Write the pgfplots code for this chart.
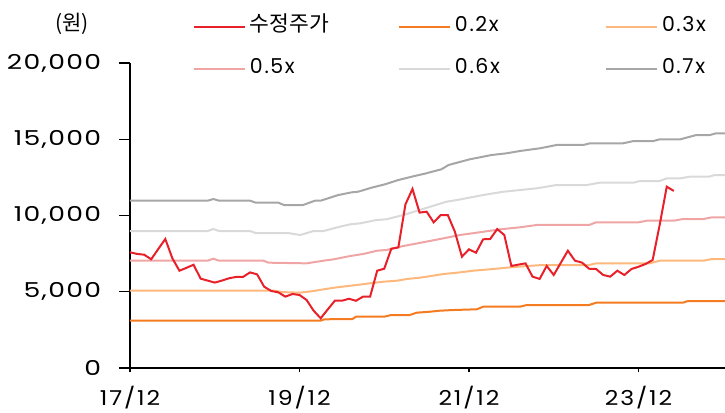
\documentclass[border=0pt]{standalone}
\usepackage{fontspec}
\usepackage{graphicx}
\setmainfont{Poppins}[LetterSpace=8]
\newfontfamily\kr{Noto Sans CJK KR}
\usepackage{pgfplots}
\pgfplotsset{compat=1.18}

\definecolor{cPrice}{HTML}{E8202A}
\definecolor{cTwo}{HTML}{F47B20}
\definecolor{cThree}{HTML}{FDB97D}
\definecolor{cFive}{HTML}{F0A5A5}
\definecolor{cSix}{HTML}{D9D9D9}
\definecolor{cSeven}{HTML}{A6A6A6}

\newcommand{\yl}[1]{\scalebox{1.3}[1]{\addfontfeature{LetterSpace=5}#1}}
\newcommand{\xl}[1]{\scalebox{1.15}[1]{#1}}

% x = months since 2017/12
\pgfplotstableread{
m v
0 7590
1 7480
2 7430
3 7130
4 7800
5 8460
6 7190
7 6380
8 6570
9 6770
10 5860
11 5730
12 5600
13 5730
14 5880
15 5970
16 5970
17 6270
18 6140
19 5330
20 5050
21 4960
22 4680
23 4850
24 4790
25 4460
26 3760
27 3260
28 3840
29 4410
30 4410
31 4540
32 4410
33 4680
34 4680
35 6380
36 6510
37 7820
38 7910
39 10730
40 11740
41 10190
42 10250
43 9550
44 10030
45 10030
46 8940
47 7300
48 7780
49 7560
50 8440
51 8460
52 9110
53 8720
54 6690
55 6780
56 6860
57 5990
58 5840
59 6690
60 6100
61 6900
62 7690
63 7040
64 6910
65 6510
66 6490
67 6100
68 5990
69 6380
70 6100
71 6490
72 6640
73 6820
74 7080
75 9380
76 11890
77 11610
}\price

\begin{document}
\begin{tikzpicture}
\begin{axis}[
    scale only axis,
    width=595pt, height=305pt,
    xmin=0, xmax=84.25, ymin=0, ymax=20000,
    axis x line=bottom, axis y line=left,
    axis line style={-, line width=1.3pt, black},
    xtick={0,24,48,72},
    xticklabels={\xl{17/12},\xl{19/12},\xl{21/12},\xl{23/12}},
    ytick={0,5000,10000,15000,20000},
    yticklabels={\yl{0},\yl{5,000},\yl{10,000},\yl{15,000},\yl{20,000}},
    scaled y ticks=false,
    tick align=outside,
    tick style={black, line width=1.3pt},
    xtick style={/pgfplots/major tick length=4pt},
    ytick style={/pgfplots/major tick length=11pt},
    ticklabel style={font=\fontsize{20.5}{24}\selectfont},
    yticklabel style={xshift=-21pt},
    xticklabel style={yshift=-10pt},
    legend columns=3,
    legend style={at={(0,1)}, anchor=north west, xshift=63pt, yshift=46pt,
        draw=none, fill=none, inner sep=0pt, outer sep=0pt,
        font=\fontsize{20.5}{24}\selectfont,
        nodes={inner sep=0pt, text height=15pt, text depth=5pt},
        row sep=22pt,
        /tikz/every odd column/.append style={column sep=4pt}},
    legend cell align=left,
    legend image code/.code={\draw[#1] (0pt,0pt) -- (51pt,0pt);},
]
\coordinate (O) at (rel axis cs:0,0);
\coordinate (T) at (rel axis cs:0,1);

\addlegendimage{cPrice, line width=2pt}
\addlegendentry{\makebox[148pt][l]{\kr\fontsize{21.5}{24}\selectfont 수정주가}}
\addlegendimage{cTwo, line width=2pt}
\addlegendentry{\makebox[150pt][l]{0.2x}}
\addlegendimage{cThree, line width=2pt}
\addlegendentry{0.3x}
\addlegendimage{cFive, line width=2pt}
\addlegendentry{\makebox[148pt][l]{0.5x}}
\addlegendimage{cSix, line width=2pt}
\addlegendentry{\makebox[150pt][l]{0.6x}}
\addlegendimage{cSeven, line width=2pt}
\addlegendentry{0.7x}

% 0.7x
\addplot[cSeven, line width=2pt, forget plot] coordinates {
(0,10972) (11,10972) (11.8,11080) (12.6,10972) (17,10972) (17.8,10841) (21,10841)
(21.8,10688) (24.5,10688) (26.2,10972) (27,10972) (29.5,11343) (31.4,11520)
(32.3,11560) (34.2,11823) (36.1,12045) (38,12327) (39.9,12546) (41.8,12750)
(44.1,13030) (45.1,13311) (48.1,13684) (51.2,13967) (53.3,14077) (55.2,14229)
(58,14404) (60.4,14623) (64.2,14623) (65.1,14732) (69.8,14732) (71.3,14883)
(74.1,14883) (75,14994) (77.9,14994) (80.2,15278) (82.1,15278) (83,15389) (84.25,15389)};
% 0.6x
\addplot[cSix, line width=2pt, forget plot] coordinates {
(0,8983) (11,8983) (11.8,9114) (12.6,8983) (17,8983) (17.8,8850) (22.4,8850)
(24.1,8721) (26,8983) (27.4,8983) (29.7,9265) (31.2,9422) (32.6,9488) (34.9,9704)
(36.3,9750) (38.7,10032) (41,10360) (44.8,10904) (46.3,11015) (50,11343)
(52.9,11560) (57.6,11783) (60.4,11999) (64.7,11999) (66.5,12150) (71.3,12150)
(72.2,12261) (75,12261) (76,12436) (77.9,12436) (79.3,12546) (82,12546)
(82.8,12655) (84.25,12655)};
% 0.5x
\addplot[cFive, line width=2pt, forget plot] coordinates {
(0,7036) (11,7036) (11.8,7167) (12.6,7036) (18.9,7036) (19.6,6906) (25,6863)
(27.4,7036) (28.8,7124) (31.2,7344) (33,7475) (35,7693) (36.3,7737) (38.7,7999)
(41,8200) (44.4,8504) (46.7,8721) (49.1,8873) (52.4,9093) (55.2,9225) (57.6,9377)
(65,9377) (66,9553) (72,9553) (73.2,9660) (77,9660) (78.3,9770) (81.2,9770)
(82.4,9880) (84.25,9880)};
% 0.3x
\addplot[cThree, line width=2pt, forget plot] coordinates {
(0,5069) (20.5,5069) (21.5,4980) (24,4937) (26,5049) (27.4,5160) (29.3,5291)
(32.1,5442) (34,5554) (35.9,5659) (37.8,5724) (39.2,5836) (41,5921) (42,5986)
(44.4,6164) (46.3,6249) (48.6,6380) (51.4,6491) (53.3,6577) (56.2,6688)
(58.5,6754) (65,6754) (66,6863) (73.6,6863) (75,7036) (81.2,7036) (82.4,7147)
(84.25,7147)};
% 0.2x
\addplot[cTwo, line width=2pt, forget plot] coordinates {
(0,3103) (27,3103) (27.5,3193) (31.5,3213) (32,3364) (36,3364) (37,3475)
(39.6,3475) (40.6,3627) (42.5,3693) (43.9,3758) (45.8,3803) (49.1,3849)
(50,4019) (55.2,4019) (56.2,4131) (65,4131) (66,4282) (78.3,4282) (79,4393)
(84.25,4393)};
% price
\addplot[cPrice, line width=2pt, forget plot] table[x=m, y=v] {\price};
\end{axis}
\node[font=\kr\fontsize{21}{24}\selectfont] at ([xshift=-58pt, yshift=39pt]T) {(원)};
\pgfresetboundingbox
\path (O) ++(-130pt,-44pt) rectangle ++(725pt,412pt);
\end{tikzpicture}
\end{document}
